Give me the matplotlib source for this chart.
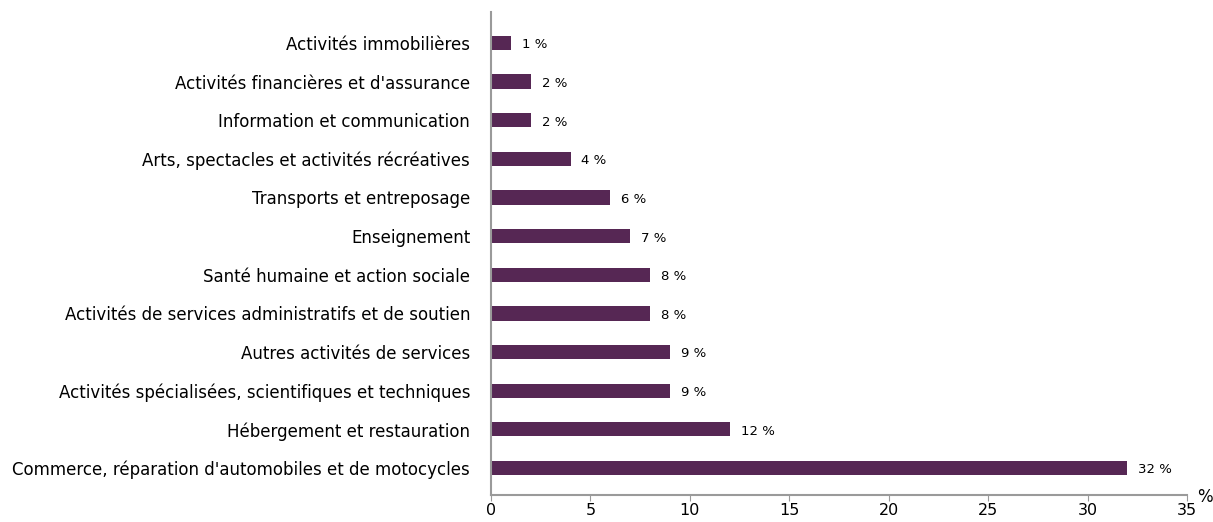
import matplotlib
matplotlib.use("Agg")
import matplotlib.pyplot as plt

categories = [
    "Commerce, réparation d'automobiles et de motocycles",
    "Hébergement et restauration",
    "Activités spécialisées, scientifiques et techniques",
    "Autres activités de services",
    "Activités de services administratifs et de soutien",
    "Santé humaine et action sociale",
    "Enseignement",
    "Transports et entreposage",
    "Arts, spectacles et activités récréatives",
    "Information et communication",
    "Activités financières et d'assurance",
    "Activités immobilières",
]
values = [32, 12, 9, 9, 8, 8, 7, 6, 4, 2, 2, 1]

bar_color = "#562754"
grey = "#9a9a9a"

fig = plt.figure(figsize=(12.13, 5.22), dpi=100)
ax = fig.add_axes([491 / 1213, 27 / 522, 696 / 1213, 483 / 522])

pos = list(range(len(categories)))
ax.barh(pos, values, height=0.37, color=bar_color)
for p, v in zip(pos, values):
    ax.text(v + 0.55, p - 0.05, f"{v} %", va="center", ha="left", fontsize=9.5)

ax.set_xlim(0, 35)
ax.set_ylim(-0.7, 11.8)
ax.set_xticks(range(0, 36, 5))
ax.set_yticks(pos)
ax.set_yticklabels(categories, fontsize=12)
ax.tick_params(axis="y", length=0, pad=15)
ax.tick_params(axis="x", direction="out", length=4, color=grey, labelsize=11.5, pad=1.5)
for s in ["top", "right"]:
    ax.spines[s].set_visible(False)
for s in ["left", "bottom"]:
    ax.spines[s].set_color(grey)
    ax.spines[s].set_linewidth(1.5)
ax.text(1.026, -0.005, "%", transform=ax.transAxes, fontsize=12, ha="center", va="center")

fig.savefig("out.png", dpi=100)
